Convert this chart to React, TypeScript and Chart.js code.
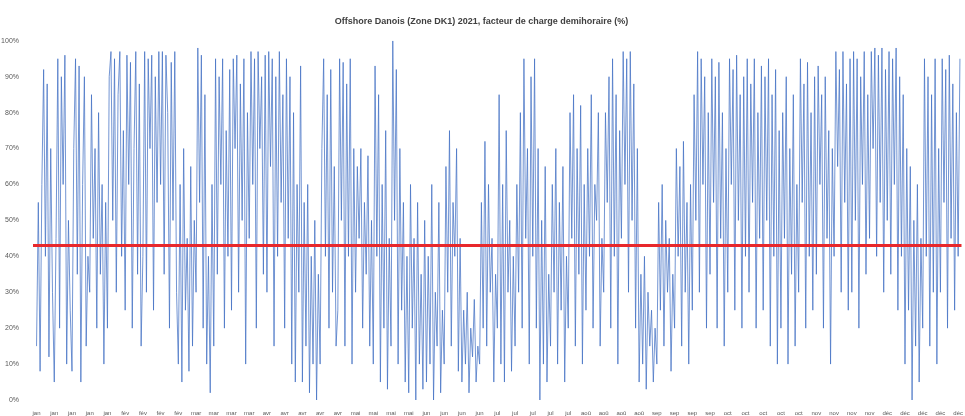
import React, { useEffect, useRef } from "react";
import { Chart, registerables } from "chart.js";

Chart.register(...registerables);

const chartTitle = "Offshore Danois (Zone DK1) 2021, facteur de charge demihoraire (%)";

const weekLabels = [
  "jan", "jan", "jan", "jan", "jan", "fév", "fév", "fév", "fév", "mar", "mar", "mar", "mar",
  "avr", "avr", "avr", "avr", "avr", "mai", "mai", "mai", "mai", "jun", "jun", "jun", "jun",
  "jul", "jul", "jul", "jul", "jul", "aoû", "aoû", "aoû", "aoû", "sep", "sep", "sep", "sep",
  "oct", "oct", "oct", "oct", "oct", "nov", "nov", "nov", "nov", "déc", "déc", "déc", "déc", "déc",
];

const yTicks = [0, 10, 20, 30, 40, 50, 60, 70, 80, 90, 100];

const meanLoadFactor = 43;

const loadFactor = [
  15, 55, 8, 60, 92, 40, 88, 12, 70, 30,
  5, 45, 95, 20, 90, 60, 96, 10, 50, 25,
  8, 70, 95, 35, 93, 5, 60, 90, 15, 40,
  30, 85, 45, 70, 20, 80, 35, 60, 10, 55,
  20, 90, 97, 50, 95, 30, 85, 97, 40, 75,
  25, 96, 60, 94, 20, 70, 97, 35, 88, 15,
  40, 97, 30, 95, 70, 96, 25, 90, 55, 97,
  60, 97, 35, 96, 80, 20, 94, 50, 97, 30,
  10, 60, 5, 70, 25, 45, 8, 65, 15, 50,
  30, 98, 55, 96, 20, 85, 10, 40, 2, 60,
  15, 95, 35, 90, 60, 95, 20, 75, 40, 92,
  25, 95, 70, 96, 30, 88, 50, 95, 10, 80,
  45, 97, 60, 95, 20, 97, 70, 90, 35, 96,
  30, 97, 65, 95, 15, 90, 40, 97, 55, 85,
  20, 95, 45, 90, 10, 80, 5, 60, 30, 93,
  5, 55, 15, 60, 2, 40, 10, 50, 0, 35,
  10, 70, 95, 40, 85, 20, 92, 30, 65, 15,
  25, 95, 50, 94, 15, 88, 40, 95, 10, 70,
  30, 65, 45, 70, 20, 55, 35, 68, 15, 50,
  10, 93, 40, 85, 5, 60, 20, 75, 3, 45,
  15, 100, 50, 92, 10, 70, 25, 55, 5, 40,
  2, 60, 20, 45, 0, 55, 10, 35, 3, 50,
  5, 40, 10, 60, 0, 30, 15, 55, 2, 25,
  10, 65, 30, 75, 15, 55, 40, 70, 8, 45,
  5, 25, 10, 30, 2, 20, 12, 28, 5, 15,
  10, 55, 20, 72, 15, 60, 30, 45, 5, 35,
  20, 85, 10, 60, 5, 75, 30, 50, 8, 40,
  15, 60, 30, 80, 20, 95, 45, 70, 10, 90,
  40, 95, 20, 70, 0, 50, 10, 65, 5, 35,
  15, 60, 30, 70, 10, 55, 25, 65, 5, 40,
  20, 80, 45, 85, 15, 70, 35, 82, 10, 60,
  25, 70, 40, 85, 20, 60, 50, 80, 15, 45,
  30, 80, 55, 90, 20, 95, 40, 85, 10, 75,
  45, 97, 60, 95, 30, 97, 50, 88, 20, 70,
  5, 35, 10, 40, 3, 30, 15, 25, 5, 20,
  10, 55, 25, 60, 15, 50, 30, 45, 8, 35,
  20, 70, 40, 65, 15, 72, 30, 55, 10, 60,
  25, 85, 50, 97, 30, 95, 60, 90, 20, 80,
  35, 95, 55, 90, 20, 94, 45, 80, 15, 70,
  30, 95, 60, 92, 25, 96, 50, 85, 20, 90,
  40, 95, 30, 88, 55, 95, 20, 80, 45, 93,
  25, 90, 50, 95, 15, 85, 40, 92, 10, 75,
  20, 80, 45, 90, 10, 70, 35, 85, 15, 60,
  30, 95, 55, 88, 20, 94, 40, 80, 25, 90,
  35, 93, 60, 85, 20, 90, 45, 75, 10, 70,
  40, 97, 65, 92, 30, 97, 55, 88, 25, 95,
  30, 97, 50, 95, 20, 90, 60, 97, 35, 85,
  45, 97, 70, 98, 40, 96, 55, 98, 30, 92,
  50, 97, 35, 95, 60, 98, 25, 90, 40, 85,
  10, 70, 25, 65, 0, 50, 15, 60, 5, 45,
  20, 95, 40, 90, 15, 85, 30, 95, 10, 70,
  30, 95, 55, 92, 20, 96, 45, 88, 25, 80,
  40, 95,
];

const POINTS_PER_WEEK = 10;
const X_MIN = -2;
const X_MAX = 522;

export default function App() {
  const ref = useRef<HTMLCanvasElement | null>(null);

  useEffect(() => {
    if (!ref.current) return;
    const font = "'Liberation Sans', 'DejaVu Sans', sans-serif";
    const chart = new Chart(ref.current, {
      type: "line",
      data: {
        datasets: [
          {
            label: "Facteur de charge",
            data: loadFactor.map((v, i) => ({ x: i, y: v })),
            borderColor: "rgba(68,114,196,0.75)",
            borderWidth: 1,
            pointRadius: 0,
            tension: 0,
            order: 2,
          },
          {
            label: "Moyenne",
            data: [
              { x: X_MIN, y: meanLoadFactor },
              { x: X_MAX, y: meanLoadFactor },
            ],
            borderColor: "rgb(232,40,44)",
            borderWidth: 3,
            pointRadius: 0,
            order: 1,
          },
        ],
      },
      options: {
        animation: false,
        responsive: false,
        maintainAspectRatio: false,
        layout: { padding: { top: 2, right: 2, left: 0, bottom: 0 } },
        plugins: {
          legend: { display: false },
          tooltip: { enabled: false },
          title: {
            display: true,
            text: chartTitle,
            color: "#404040",
            font: { family: font, size: 9, weight: "bold" },
            padding: { top: 14, bottom: 14 },
          },
        },
        scales: {
          x: {
            type: "linear",
            min: X_MIN,
            max: X_MAX,
            grid: { display: false },
            border: { display: false },
            afterBuildTicks: (scale: any) => {
              scale.ticks = weekLabels.map((_, i) => ({ value: i * POINTS_PER_WEEK }));
            },
            afterFit: (scale: any) => {
              scale.height = 16;
            },
            ticks: {
              autoSkip: false,
              maxRotation: 0,
              minRotation: 0,
              padding: 2,
              color: "#595959",
              font: { family: font, size: 6 },
              callback: (v: any) => weekLabels[Math.round(Number(v) / POINTS_PER_WEEK)] ?? "",
            },
          },
          y: {
            type: "linear",
            min: 0,
            max: 100,
            grid: { display: false },
            border: { display: false },
            afterBuildTicks: (scale: any) => {
              scale.ticks = yTicks.map((v) => ({ value: v }));
            },
            afterFit: (scale: any) => {
              scale.width = 33;
            },
            ticks: {
              padding: 6,
              color: "#595959",
              font: { family: font, size: 7 },
              callback: (v: any) => `${v}%`,
            },
          },
        },
      },
    });
    return () => chart.destroy();
  }, []);

  return (
    <div style={{ position: "fixed", left: 0, top: 0, width: 965, height: 416, background: "#fff" }}>
      <canvas ref={ref} width={965} height={416} />
    </div>
  );
}
